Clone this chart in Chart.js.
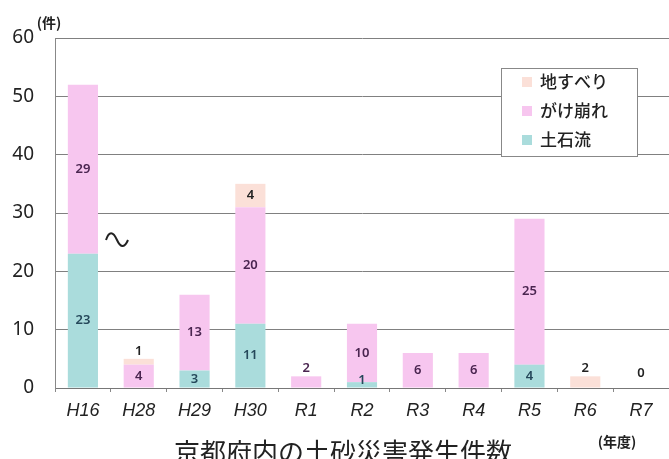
<!DOCTYPE html>
<html><head><meta charset="utf-8">
<script src="https://cdn.jsdelivr.net/npm/chart.js@4"></script>
<style>html,body{margin:0;padding:0;background:#fff;}#wrap{width:669px;height:459px;position:relative;}</style>
</head><body><div id="wrap"><canvas id="c" width="669" height="459"></canvas></div>
<script>
const categories = ['H16','H28','H29','H30','R1','R2','R3','R4','R5','R6','R7'];
const debrisFlow = [23,0,3,11,0,1,0,0,4,0,0];      // 土石流
const slopeFailure = [29,4,13,20,2,10,6,6,25,0,0];  // がけ崩れ
const landslide = [0,1,0,4,0,0,0,0,0,2,0];          // 地すべり
const yTicks = [0,10,20,30,40,50,60];
const seriesNames = ['土石流','がけ崩れ','地すべり'];
const title = '京都府内の土砂災害発生件数';

const colors = ['#aadcdc','#f7c6ef','#fbe0d8'];
const labelColors = ['#25485a','#4a2550','#222'];

const labelPlugin = {
  id:'labels',
  afterDatasetsDraw(chart){
    const ctx = chart.ctx;
    const n = categories.length;
    ctx.save();
    ctx.font = '600 13px "Noto Sans", sans-serif';
    ctx.textAlign = 'center'; ctx.textBaseline = 'middle';
    const yScale = chart.scales.y;
    const base = yScale.getPixelForValue(0);
    for (let i=0;i<n;i++){
      let topIdx = -1;
      chart.data.datasets.forEach((ds,d)=>{ if (ds.data[i]>0) topIdx = d; });
      if (topIdx<0){
        const x = chart.getDatasetMeta(0).data[i].x;
        ctx.fillStyle = '#222';
        ctx.fillText('0', x, base-15);
        continue;
      }
      chart.data.datasets.forEach((ds,d)=>{
        const v = ds.data[i];
        if (!(v>0)) return;
        const el = chart.getDatasetMeta(d).data[i];
        const top = el.y, bot = el.base;
        let y = (top+bot)/2;
        if (d===topIdx && (bot-top)<14) y = top-8;
        if (y > base-8) y = base-8;
        ctx.fillStyle = labelColors[d];
        ctx.fillText(String(v), el.x, y);
      });
    }
    ctx.restore();
  }
};

const decoPlugin = {
  id:'deco',
  afterDraw(chart){
    const ctx = chart.ctx;
    ctx.save();
    // legend
    ctx.fillStyle = '#fff';
    ctx.fillRect(501.5,68.5,136,88);
    ctx.strokeStyle = '#888'; ctx.lineWidth = 1;
    ctx.strokeRect(501.5,68.5,136,88);
    const items = [[2,82],[1,111],[0,140]];
    ctx.font = '500 17px "Noto Sans CJK JP", sans-serif';
    ctx.textAlign = 'left'; ctx.textBaseline = 'middle';
    items.forEach(([d,y])=>{
      ctx.fillStyle = colors[d];
      ctx.fillRect(522,y-5,10,10);
      ctx.fillStyle = '#222';
      ctx.fillText(seriesNames[d],540,y);
    });
    // tilde mark
    ctx.strokeStyle = '#222'; ctx.lineWidth = 2;
    ctx.beginPath();
    ctx.moveTo(106,240);
    ctx.bezierCurveTo(109,231,113,231,117,240);
    ctx.bezierCurveTo(121,249,125,247,128,240);
    ctx.stroke();
    // unit labels
    ctx.fillStyle = '#222';
    ctx.font = 'bold 14px "Noto Sans CJK JP", sans-serif';
    ctx.textAlign = 'center';
    ctx.fillText('(件)',49,23);
    ctx.fillText('(年度)',617,442);
    // title
    ctx.font = '26px "Noto Sans CJK JP", sans-serif';
    ctx.fillText(title,343,452);
    ctx.restore();
  }
};

new Chart(document.getElementById('c'),{
  type:'bar',
  data:{
    labels:categories,
    datasets:[
      {label:seriesNames[0],data:debrisFlow,backgroundColor:colors[0]},
      {label:seriesNames[1],data:slopeFailure,backgroundColor:colors[1]},
      {label:seriesNames[2],data:landslide,backgroundColor:colors[2]}
    ]
  },
  options:{
    responsive:false,animation:false,
    layout:{padding:{top:38,right:0,left:0,bottom:0}},
    datasets:{bar:{barPercentage:0.54,categoryPercentage:1}},
    plugins:{legend:{display:false},tooltip:{enabled:false}},
    scales:{
      x:{stacked:true,
        grid:{display:true,drawOnChartArea:false,drawTicks:true,tickLength:4,color:'#888',offset:true},
        border:{color:'#777',width:1},
        ticks:{color:'#222',padding:8,font:{family:'"Liberation Sans", sans-serif',size:18,style:'italic'}},
        afterFit(s){s.height=71;}
      },
      y:{stacked:true,min:0,max:60,
        afterBuildTicks(s){s.ticks=yTicks.map(v=>({value:v}));},
        grid:{color:'#808080',lineWidth:1,drawTicks:false},
        border:{color:'#888',width:1},
        ticks:{color:'#222',padding:21,font:{family:'"Noto Sans", sans-serif',size:19}},
        afterFit(s){s.width=55;}
      }
    }
  },
  plugins:[labelPlugin,decoPlugin]
});
</script></body></html>
